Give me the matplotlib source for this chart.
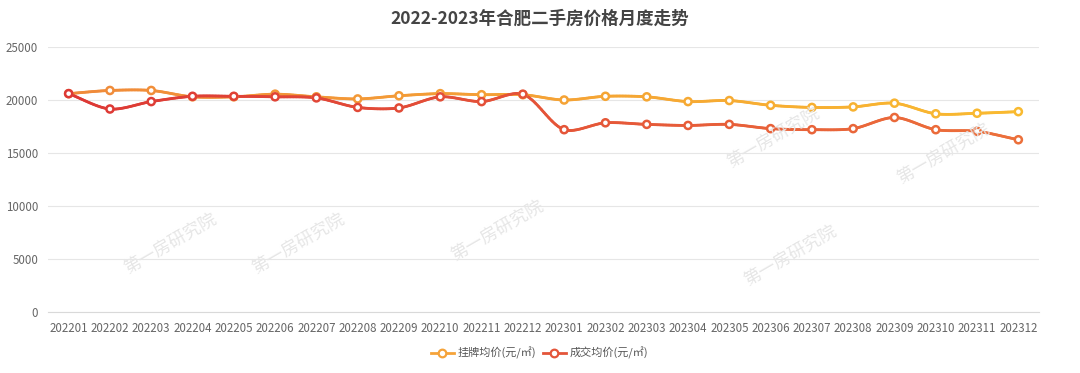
import numpy as np
import matplotlib
matplotlib.use('Agg')
import matplotlib.pyplot as plt
from matplotlib.collections import LineCollection
from matplotlib.colors import to_rgb
from matplotlib.lines import Line2D

plt.rcParams['font.family'] = ['Noto Sans CJK SC', 'DejaVu Sans']

months = ['202201', '202202', '202203', '202204', '202205', '202206', '202207', '202208',
          '202209', '202210', '202211', '202212', '202301', '202302', '202303', '202304',
          '202305', '202306', '202307', '202308', '202309', '202310', '202311', '202312']
listing = [20600, 20900, 20900, 20300, 20300, 20550, 20300, 20100, 20400, 20600, 20500, 20500,
           20000, 20350, 20300, 19850, 19950, 19500, 19300, 19350, 19700, 18700, 18750, 18900]
deal = [20600, 19150, 19850, 20350, 20350, 20300, 20200, 19300, 19250, 20300, 19850, 20550,
        17200, 17850, 17700, 17600, 17700, 17300, 17200, 17300, 18350, 17200, 17050, 16250]

title = '2022-2023年合肥二手房价格月度走势'
names = ['挂牌均价(元/㎡)', '成交均价(元/㎡)']
watermark = '第一房研究院'


def smooth_curve(xs, ys, sx, sy, smooth=0.3, n=30):
    # bezier smoothing like echarts, worked out in pixel-ish units
    px = np.asarray(xs, float) * sx
    py = np.asarray(ys, float) * sy
    m = len(px)
    cp_prev, cp_next = [], []
    for i in range(m):
        pi, ni = max(i - 1, 0), min(i + 1, m - 1)
        vx, vy = px[ni] - px[pi], py[ni] - py[pi]
        d0 = np.hypot(px[i] - px[pi], py[i] - py[pi])
        d1 = np.hypot(px[ni] - px[i], py[ni] - py[i])
        r = d1 / (d0 + d1) if d0 + d1 > 0 else 0.5
        cp_next.append((px[i] + vx * smooth * r, py[i] + vy * smooth * r))
        cp_prev.append((px[i] - vx * smooth * (1 - r), py[i] - vy * smooth * (1 - r)))
    t = np.linspace(0, 1, n)[:, None]
    out = []
    for i in range(m - 1):
        p0 = np.array([px[i], py[i]])
        p1 = np.array(cp_next[i])
        p2 = np.array(cp_prev[i + 1])
        p3 = np.array([px[i + 1], py[i + 1]])
        seg = ((1 - t) ** 3) * p0 + 3 * ((1 - t) ** 2) * t * p1 + 3 * (1 - t) * t ** 2 * p2 + t ** 3 * p3
        out.append(seg if i == 0 else seg[1:])
    pts = np.vstack(out)
    return pts[:, 0] / sx, pts[:, 1] / sy


def mix(c0, c1, f):
    a, b = np.array(to_rgb(c0)), np.array(to_rgb(c1))
    return a + (b - a) * np.clip(f, 0, 1)[..., None]


fig = plt.figure(figsize=(10.8, 3.73), dpi=100)
ax = fig.add_axes([48 / 1080, 61 / 373, 991 / 1080, 265 / 373])

x = np.arange(len(months))
series = [(listing, '#F08A3A', '#F9BA30'),
          (deal, '#DD3835', '#EC703B')]

for vals, c0, c1 in series:
    cx, cy = smooth_curve(x, vals, 41.3, 0.0106)
    segs = np.stack([np.column_stack([cx[:-1], cy[:-1]]), np.column_stack([cx[1:], cy[1:]])], axis=1)
    frac = ((cx[:-1] + cx[1:]) / 2) / (len(months) - 1)
    ax.add_collection(LineCollection(segs, colors=mix(c0, c1, frac), linewidths=2.0,
                                     capstyle='round', zorder=3))
    ecol = mix(c0, c1, x / (len(months) - 1))
    ax.scatter(x, vals, s=26, facecolors='white', edgecolors=ecol, linewidths=1.8, zorder=4)

ax.set_xlim(-0.5, len(months) - 0.5)
ax.set_ylim(0, 25000)
ax.set_yticks(np.arange(0, 25001, 5000))
ax.set_xticks(x)
ax.set_xticklabels(months)
ax.tick_params(axis='both', length=0, labelsize=8.3, colors='#666666')
ax.tick_params(axis='x', pad=7)
ax.tick_params(axis='y', pad=7)
ax.grid(axis='y', color='#E6E6E6', linewidth=0.8)
ax.set_axisbelow(True)
for s in ['top', 'right', 'left']:
    ax.spines[s].set_visible(False)
ax.spines['bottom'].set_color('#D9D9D9')
ax.spines['bottom'].set_linewidth(0.8)

fig.text(0.5, 1 - 19 / 373, title, ha='center', va='center', fontsize=12.6,
         fontweight='bold', color='#444444')

# watermarks
for wx, wy in [(170, 243), (298, 243), (497, 230), (790, 255), (773, 137), (943, 153)]:
    fig.text(wx / 1080, 1 - wy / 373, watermark, ha='center', va='center', fontsize=12.5,
             rotation=30, color='#E6E6E6', zorder=1)

handles = [Line2D([0], [0], color=c, lw=2, marker='o', markersize=5.5,
                  markerfacecolor='white', markeredgecolor=c, markeredgewidth=1.6)
           for c in ['#F5A33A', '#E4553A']]
fig.legend(handles, names, loc='center', bbox_to_anchor=(0.5, 1 - 353 / 373), ncol=2,
           frameon=False, fontsize=8, handlelength=2.0, handletextpad=0.4,
           columnspacing=0.6, labelcolor='#555555')

fig.savefig('out.png', dpi=100, facecolor='white')
